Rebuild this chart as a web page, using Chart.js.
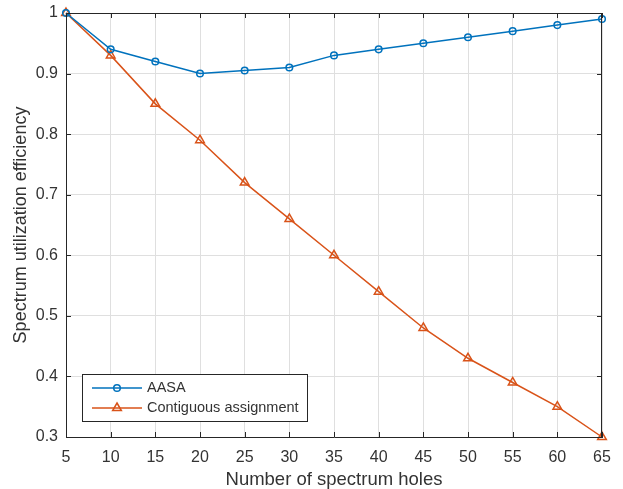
<!DOCTYPE html>
<html><head><meta charset="utf-8">
<script src="https://cdn.jsdelivr.net/npm/chart.js@4/dist/chart.umd.min.js"></script>
<style>html,body{margin:0;padding:0;background:#fff}#wrap{width:623px;height:489px}</style>
</head><body><div id="wrap"><canvas id="c" width="623" height="489"></canvas></div>
<script>
const holes = [5,10,15,20,25,30,35,40,45,50,55,60,65];
const aasa = [1.00,0.94,0.92,0.90,0.905,0.91,0.93,0.94,0.95,0.96,0.97,0.98,0.99];
const contiguous = [1.00,0.93,0.85,0.79,0.72,0.66,0.60,0.54,0.48,0.43,0.39,0.35,0.30];
const xTicks = [5,10,15,20,25,30,35,40,45,50,55,60,65];
const yTicks = [0.3,0.4,0.5,0.6,0.7,0.8,0.9,1];
const seriesNames = ['AASA','Contiguous assignment'];

const AX = '#262626', TXT = '#333333', GRID = '#dfdfdf';
const FONT = '"Liberation Sans", Arial, Helvetica, sans-serif';

const boxPlugin = {
  id:'box',
  afterDraw(chart){
    const {ctx, chartArea:a, scales:{x,y}} = chart;
    ctx.save();
    ctx.strokeStyle = AX; ctx.lineWidth = 1;
    ctx.beginPath();
    ctx.moveTo(a.left, a.top+0.5); ctx.lineTo(a.right, a.top+0.5);
    ctx.moveTo(a.right-0.5, a.top); ctx.lineTo(a.right-0.5, a.bottom);
    const tl = 5;
    xTicks.forEach(v=>{const px=Math.round(x.getPixelForValue(v))+0.5;
      ctx.moveTo(px,a.bottom); ctx.lineTo(px,a.bottom-tl);
      ctx.moveTo(px,a.top); ctx.lineTo(px,a.top+tl);});
    yTicks.forEach(v=>{const py=Math.round(y.getPixelForValue(v))+0.5;
      ctx.moveTo(a.left,py); ctx.lineTo(a.left+tl,py);
      ctx.moveTo(a.right,py); ctx.lineTo(a.right-tl,py);});
    ctx.stroke();
    // legend
    const lx=82.5, ly=374.5, lw=225, lh=47;
    ctx.fillStyle='#fff'; ctx.fillRect(lx,ly,lw,lh);
    ctx.strokeStyle=AX; ctx.lineWidth=1; ctx.strokeRect(lx,ly,lw,lh);
    ctx.font = '14.5px '+FONT; ctx.textBaseline='middle'; ctx.textAlign='left';
    chart.data.datasets.forEach((ds,i)=>{
      const yy = 388 + i*20;
      ctx.strokeStyle = ds.borderColor; ctx.lineWidth = 1.5;
      ctx.beginPath(); ctx.moveTo(92,yy); ctx.lineTo(142,yy); ctx.stroke();
      ctx.beginPath();
      if(ds.pointStyle==='circle'){ ctx.arc(117,yy,3.3,0,Math.PI*2); }
      else { const r=5; ctx.moveTo(117,yy-r); ctx.lineTo(117+r*0.87,yy+r*0.5); ctx.lineTo(117-r*0.87,yy+r*0.5); ctx.closePath(); }
      ctx.stroke();
      ctx.fillStyle = TXT; ctx.fillText(seriesNames[i],147,yy);
    });
    ctx.restore();
  }
};

new Chart(document.getElementById('c'),{
  type:'line',
  data:{labels:holes,datasets:[
    {label:seriesNames[0],data:holes.map((h,i)=>({x:h,y:aasa[i]})),borderColor:'#0072BD',backgroundColor:'rgba(0,0,0,0)',borderWidth:1.5,pointStyle:'circle',pointRadius:3.3,pointBorderWidth:1.5,pointBorderColor:'#0072BD',pointBackgroundColor:'rgba(0,0,0,0)',tension:0,clip:false},
    {label:seriesNames[1],data:holes.map((h,i)=>({x:h,y:contiguous[i]})),borderColor:'#D95319',backgroundColor:'rgba(0,0,0,0)',borderWidth:1.5,pointStyle:'triangle',pointRadius:5,pointBorderWidth:1.5,pointBorderColor:'#D95319',pointBackgroundColor:'rgba(0,0,0,0)',tension:0,clip:false}
  ]},
  options:{
    responsive:false,animation:false,
    layout:{padding:{top:13,right:21,left:0,bottom:0}},
    plugins:{legend:{display:false},tooltip:{enabled:false}},
    scales:{
      x:{type:'linear',min:5,max:65,
        afterBuildTicks(s){s.ticks=xTicks.map(v=>({value:v}));},
        afterFit(s){s.height=52;s.paddingLeft=0;s.paddingRight=0;},
        grid:{color:GRID,drawTicks:false},
        border:{display:true,color:AX,width:1},
        ticks:{color:TXT,font:{family:FONT,size:16},padding:11,maxRotation:0,autoSkip:false},
        title:{display:true,text:'Number of spectrum holes',color:TXT,font:{family:FONT,size:18.5,lineHeight:1.0},padding:{top:0,bottom:0}}},
      y:{type:'linear',min:0.3,max:1,
        afterBuildTicks(s){s.ticks=yTicks.map(v=>({value:v}));},
        afterFit(s){s.width=66;s.paddingTop=0;s.paddingBottom=0;},
        grid:{color:GRID,drawTicks:false},
        border:{display:true,color:AX,width:1},
        ticks:{color:TXT,font:{family:FONT,size:16},padding:8,autoSkip:false,callback:v=>String(Math.round(v*10)/10)},
        title:{display:true,text:'Spectrum utilization efficiency',color:TXT,font:{family:FONT,size:18},padding:{top:10,bottom:0}}}
    }
  },
  plugins:[boxPlugin]
});
</script></body></html>
